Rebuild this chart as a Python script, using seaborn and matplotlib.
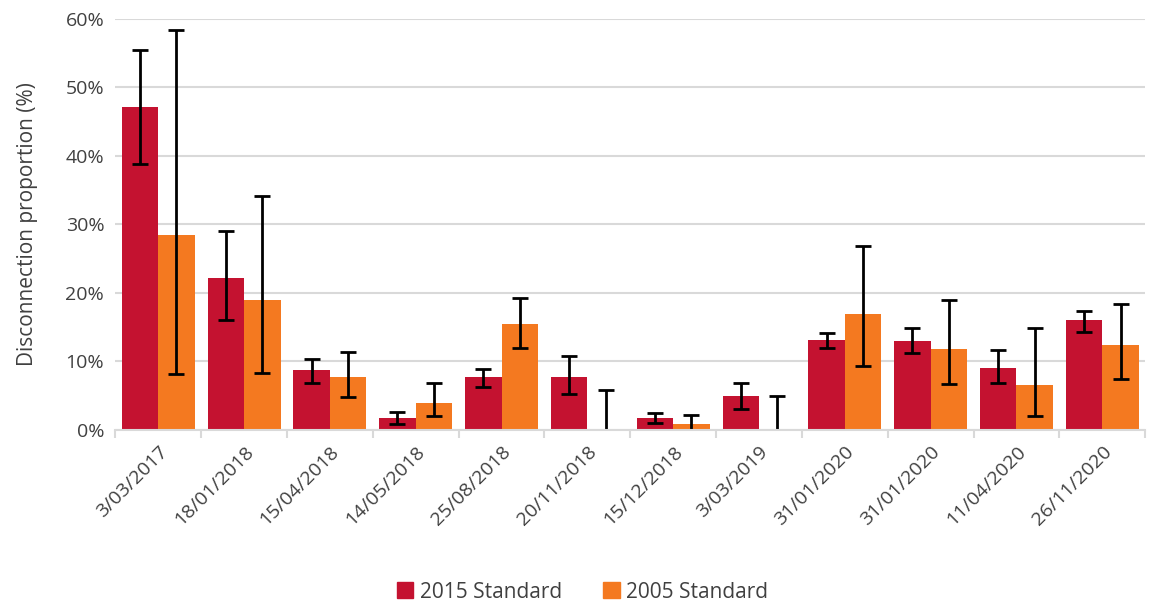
import numpy as np
import pandas as pd
import matplotlib.pyplot as plt
import seaborn as sns
from matplotlib.ticker import PercentFormatter, FixedLocator

# data (percent)
dates = ["3/03/2017", "18/01/2018", "15/04/2018", "14/05/2018", "25/08/2018", "20/11/2018",
         "15/12/2018", "3/03/2019", "31/01/2020", "31/01/2020", "11/04/2020", "26/11/2020"]
std2015 = [47.2, 22.2, 8.7, 1.7, 7.7, 7.7, 1.7, 4.9, 13.1, 13.0, 9.1, 16.0]
std2015_low = [38.8, 16.1, 6.9, 0.9, 6.3, 5.2, 1.0, 3.1, 11.9, 11.2, 6.8, 14.3]
std2015_high = [55.5, 29.1, 10.4, 2.6, 8.9, 10.8, 2.4, 6.9, 14.2, 14.8, 11.6, 17.4]
std2005 = [28.5, 19.0, 7.7, 3.9, 15.4, 0.0, 0.8, 0.0, 16.9, 11.8, 6.6, 12.4]
std2005_low = [8.2, 8.3, 4.8, 2.0, 11.9, 0.0, 0.0, 0.0, 9.3, 6.7, 2.0, 7.4]
std2005_high = [58.3, 34.1, 11.4, 6.9, 19.2, 5.8, 2.1, 5.0, 26.8, 18.9, 14.8, 18.3]

series = ["2015 Standard", "2005 Standard"]
colors = ["#C41230", "#F47920"]

n = len(dates)
df = pd.DataFrame({
    "pos": list(range(n)) * 2,
    "value": std2015 + std2005,
    "low": std2015_low + std2005_low,
    "high": std2015_high + std2005_high,
    "standard": [series[0]] * n + [series[1]] * n,
})

plt.rcParams["font.family"] = ["Open Sans", "DejaVu Sans"]
text_color = "#404040"

fig, ax = plt.subplots(figsize=(11.65, 6.08), dpi=100)
fig.subplots_adjust(left=0.099, right=0.983, top=0.969, bottom=0.293)

sns.barplot(data=df, x="pos", y="value", hue="standard", hue_order=series,
            palette=colors, saturation=1, errorbar=None, width=0.85, gap=0,
            ax=ax, zorder=2)

# asymmetric error bars; no cap drawn where the lower bound sits on zero
for i, name in enumerate(series):
    sub = df[df["standard"] == name]
    centers = np.array([p.get_x() + p.get_width() / 2 for p in ax.containers[i]])
    lo = sub["low"].to_numpy()
    hi = sub["high"].to_numpy()
    ax.vlines(centers, lo, hi, color="black", linewidth=2, zorder=3)
    ax.plot(centers, hi, ls="none", marker="_", ms=11, mew=2, color="black", zorder=3)
    keep = lo > 0
    ax.plot(centers[keep], lo[keep], ls="none", marker="_", ms=11, mew=2,
            color="black", zorder=3)

ax.set_ylim(0, 60)
ax.set_xlim(-0.5, n - 0.5)
ax.yaxis.set_major_formatter(PercentFormatter(decimals=0))
ax.set_yticks(range(0, 61, 10))
ax.grid(axis="y", color="#d9d9d9", linewidth=1.5, zorder=0)
ax.set_axisbelow(True)

ax.set_xticks(range(n))
ax.set_xticklabels(dates, rotation=45, ha="right", rotation_mode="anchor",
                   fontsize=14, color=text_color)
ax.xaxis.set_minor_locator(FixedLocator([k - 0.5 for k in range(n + 1)]))
ax.tick_params(axis="x", which="major", length=0, pad=9)
ax.tick_params(axis="x", which="minor", length=6, color="#d9d9d9", width=1.5)
ax.tick_params(axis="y", length=0, labelsize=14, labelcolor=text_color, pad=8)

ax.set_xlabel("")
ax.set_ylabel("Disconnection proportion (%)", fontsize=15, color=text_color, labelpad=20)

for side in ["top", "right", "left"]:
    ax.spines[side].set_visible(False)
ax.spines["bottom"].set_color("#d9d9d9")
ax.spines["bottom"].set_linewidth(1.5)
ax.spines["bottom"].set_zorder(4)

ax.legend_.remove()
handles = [plt.Rectangle((0, 0), 1, 1, color=c) for c in colors]
fig.legend(handles, series, loc="lower center", bbox_to_anchor=(0.5, -0.022), ncol=2,
           frameon=False, fontsize=15, handlelength=0.8, handleheight=0.8,
           handletextpad=0.3, columnspacing=2.0, labelcolor=text_color)

fig.savefig("out.png", dpi=100)
plt.close(fig)
